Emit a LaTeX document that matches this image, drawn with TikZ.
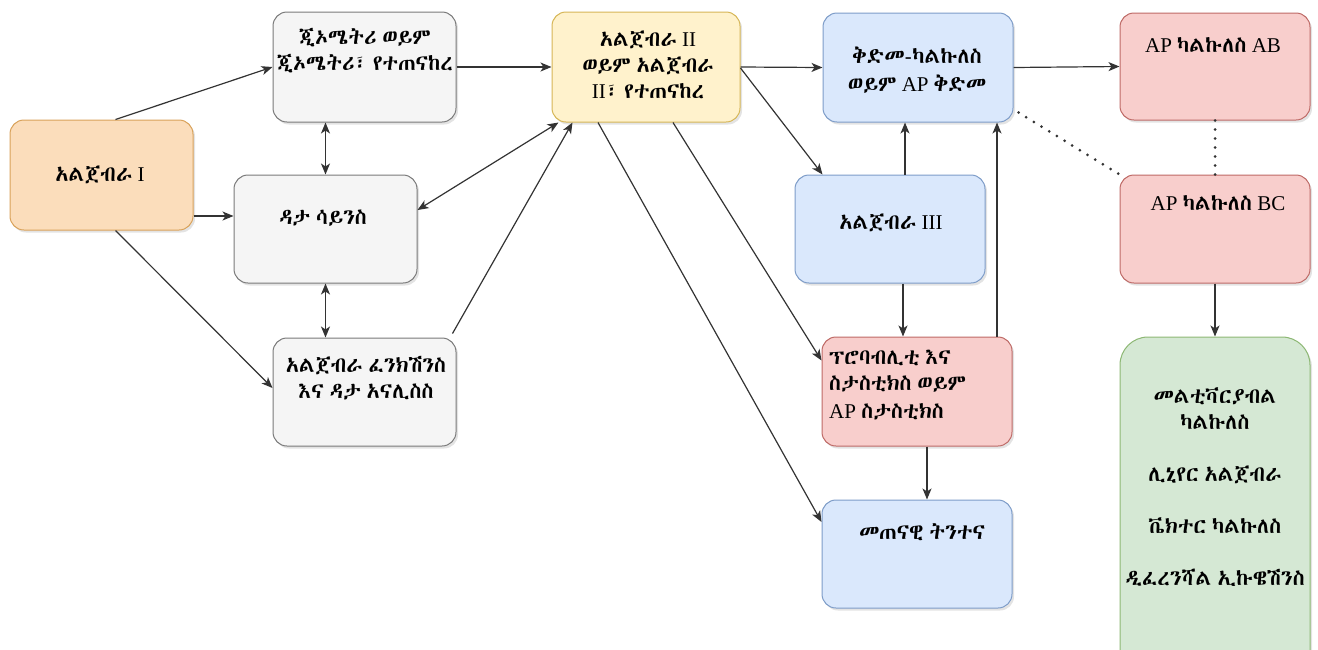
\documentclass[tikz,border=0pt]{standalone}
\usepackage{fontspec}
\setmainfont{Liberation Serif}
\IfFontExistsTF{Abyssinica SIL}{\newfontfamily\ethfont[Scale=1.03,WordSpace=0.6]{Abyssinica SIL}}{%
\newfontfamily\ethfont{FreeSerif}}
\newcommand{\am}[1]{{\ethfont #1}}
\usetikzlibrary{arrows.meta,shadows}

\definecolor{orgF}{HTML}{FBDDBB}\definecolor{orgD}{HTML}{D9A25A}
\definecolor{gryF}{HTML}{F5F5F5}\definecolor{gryD}{HTML}{7A7A7A}
\definecolor{yelF}{HTML}{FFF2CC}\definecolor{yelD}{HTML}{D6B656}
\definecolor{bluF}{HTML}{DAE8FC}\definecolor{bluD}{HTML}{7D9CC8}
\definecolor{redF}{HTML}{F8CECC}\definecolor{redD}{HTML}{BE6A66}
\definecolor{grnF}{HTML}{D5E8D4}\definecolor{grnD}{HTML}{8DB874}
\definecolor{lnC}{HTML}{333333}

\begin{document}
\begin{tikzpicture}[x=1pt,y=-1pt,
box/.style={draw,line width=1pt,rounded corners=14pt,inner sep=0pt,
 drop shadow={shadow xshift=2pt,shadow yshift=-2.5pt,opacity=0.22}},
txt/.style={font=\fontsize{21}{26}\selectfont,align=center,inner sep=0pt},
arr/.style={draw=lnC,line width=1.2pt,-{Stealth[length=11pt,width=9pt,inset=3pt]}},
darr/.style={arr,{Stealth[length=11pt,width=9pt,inset=3pt]}-{Stealth[length=11pt,width=9pt,inset=3pt]}},
dots/.style={draw=lnC,line width=3pt,dash pattern=on 0pt off 9pt,line cap=round}]

\useasboundingbox (0,0) rectangle (1318,649);
\clip (0,0) rectangle (1318,649);

\node[box,fill=orgF,draw=orgD,minimum width=183,minimum height=110] (algI) at (101.5,175) {};
\node[box,fill=gryF,draw=gryD,minimum width=183,minimum height=110] (geo) at (364.5,67) {};
\node[box,fill=gryF,draw=gryD,minimum width=183,minimum height=108] (data) at (325.5,229) {};
\node[box,fill=gryF,draw=gryD,minimum width=183,minimum height=108] (func) at (364.5,392) {};
\node[box,fill=yelF,draw=yelD,minimum width=188,minimum height=110] (algII) at (646,67) {};
\node[box,fill=bluF,draw=bluD,minimum width=190,minimum height=109] (pre) at (918,67.5) {};
\node[box,fill=bluF,draw=bluD,minimum width=190,minimum height=108] (algIII) at (890,229) {};
\node[box,fill=redF,draw=redD,minimum width=190,minimum height=109] (prob) at (917,391.5) {};
\node[box,fill=bluF,draw=bluD,minimum width=190,minimum height=108] (quant) at (917,554) {};
\node[box,fill=redF,draw=redD,minimum width=190,minimum height=107] (ab) at (1215,66.5) {};
\node[box,fill=redF,draw=redD,minimum width=190,minimum height=108] (bc) at (1215,229) {};
\node[box,fill=grnF,draw=grnD,rounded corners=28pt,minimum width=190,minimum height=370] (multi) at (1215,522) {};

\node[txt] (algIt) at (100,175) {\am{አልጀብራ} I};
\node[txt] (geot) at (365,51) {\am{ጂኦሜትሪ ወይም}\\\am{ጂኦሜትሪ፣ የተጠናከረ}};
\node[txt] (datat) at (323,218) {\am{ዳታ ሳይንስ}};
\node[txt] (funct) at (366,378) {\am{አልጀብራ ፈንክሽንስ}\\\am{እና ዳታ አናሊስስ}};
\node[txt] (algIIt) at (648,65) {\am{አልጀብራ} II\\\am{ወይም አልጀብራ}\\II\am{፣ የተጠናከረ}};
\node[txt] (pret) at (917,70) {\am{ቅድመ-ካልኩለስ}\\[2pt]\am{ወይም} AP \am{ቅድመ}};
\node[txt] (algIIIt) at (891,223) {\am{አልጀብራ} III};
\node[txt,align=left,anchor=west] (probt) at (829,385) {\am{ፕሮባብሊቲ እና}\\\am{ስታስቲክስ ወይም}\\[2pt]AP \am{ስታስቲክስ}};
\node[txt] (quantt) at (922,532) {\am{መጠናዊ ትንተና}};
\node[txt] (abt) at (1213,45) {AP \am{ካልኩለስ} AB};
\node[txt] (bct) at (1218,203) {AP \am{ካልኩለስ} BC};
\node[txt] (multit) at (1215,487) {\am{መልቲቫርያብል}\\\am{ካልኩለስ}\\[26pt]\am{ሊኒየር አልጀብራ}\\[26pt]\am{ቬክተር ካልኩለስ}\\[26pt]\am{ዲፈረንሻል ኢኩዌሽንስ}};

\coordinate (d1) at ([yshift=13]data.west);
\coordinate (a3) at ([xshift=15]algIII.north);
\coordinate (a4) at ([xshift=13]algIII.south);
\coordinate (p1) at ([xshift=80]prob.north);
\coordinate (p2) at ([xshift=10]prob.south);

\foreach \a/\b in {geo.east/algII.west, algII.east/pre.west, pre.east/ab.west, bc.south/multi.north}
\draw[arr] (\a) -- (\b);

\draw[arr] ([xshift=14]algI.north) -- (geo.west);
\draw[arr] (algI.east |- d1) -- (d1);
\draw[arr] ([xshift=14]algI.south) -- ([yshift=4]func.west);
\draw[darr] (geo.south -| data.north) -- (data.north);
\draw[darr] (data.south) -- (data.south |- func.north);
\draw[darr] ([yshift=19]data.east) -- ([xshift=7]algII.south west);
\draw[arr] ([xshift=-4,yshift=4]func.north east) -- ([xshift=21]algII.south west);
\draw[arr] ([yshift=-1]algII.east) -- ([xshift=28]algIII.north west);
\draw[arr] ([xshift=27]algII.south) -- ([yshift=31]prob.west);
\draw[arr] ([xshift=-48]algII.south) -- ([yshift=32]quant.west);
\draw[arr] (a3) -- (a3 |- pre.south);
\draw[arr] (a4) -- (a4 |- prob.north);
\draw[arr] (p1) -- (p1 |- pre.south);
\draw[arr] (p2) -- (p2 |- quant.north);

\draw[dots] ([xshift=5,yshift=10]pre.south east) -- (bc.north west);
\draw[dots] (ab.south) -- (bc.north);

\end{tikzpicture}
\end{document}
